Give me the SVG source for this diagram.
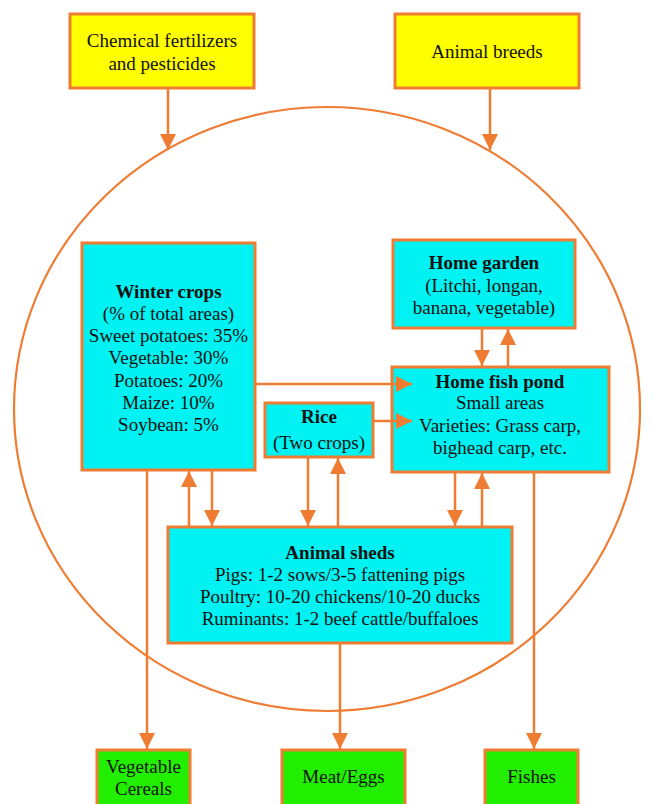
<svg xmlns="http://www.w3.org/2000/svg" width="654" height="804" viewBox="0 0 654 804">
<style>
.box{stroke:#EE7D33;stroke-width:3}
.y{fill:#FFFF00}.c{fill:#00F2F2}.g{fill:#22EE00}
text{font-family:"Liberation Serif","Times New Roman",serif;font-size:19px;fill:#111;text-anchor:middle}
.b{font-weight:bold}
.ln{stroke:#EE7D33;stroke-width:2.5;fill:none}
</style>
<defs>
<marker id="ah" markerUnits="userSpaceOnUse" markerWidth="17" markerHeight="16" refX="16" refY="8" orient="auto">
<path d="M0,0 L16,8 L0,16 z" fill="#EE7D33"/>
</marker>
</defs>
<rect width="654" height="804" fill="#fff"/>
<ellipse cx="327" cy="409" rx="313" ry="302" fill="none" stroke="#EE7D33" stroke-width="2.2"/>
<g id="chem">
<rect class="box y" x="70" y="14" width="184" height="74"/>
<text x="162" y="47">Chemical fertilizers</text>
<text x="162" y="70">and pesticides</text>
</g>
<g id="breeds">
<rect class="box y" x="395" y="14" width="184" height="74"/>
<text x="487" y="58">Animal breeds</text>
</g>
<g id="winter">
<rect class="box c" x="82" y="243" width="173" height="227"/>
<text class="b" x="168.5" y="298">Winter crops</text>
<text x="168.5" y="320">(% of total areas)</text>
<text x="168.5" y="342">Sweet potatoes: 35%</text>
<text x="168.5" y="364">Vegetable: 30%</text>
<text x="168.5" y="387">Potatoes: 20%</text>
<text x="168.5" y="409">Maize: 10%</text>
<text x="168.5" y="431">Soybean: 5%</text>
</g>
<g id="garden">
<rect class="box c" x="393" y="240" width="182" height="88"/>
<text class="b" x="484" y="269">Home garden</text>
<text x="484" y="292">(Litchi, longan,</text>
<text x="484" y="314">banana, vegetable)</text>
</g>
<g id="pond">
<rect class="box c" x="392" y="367" width="217" height="105"/>
<text class="b" x="500" y="388">Home fish pond</text>
<text x="500" y="409">Small areas</text>
<text x="500" y="432">Varieties: Grass carp,</text>
<text x="500" y="454">bighead carp, etc.</text>
</g>
<g id="rice">
<rect class="box c" x="265" y="403" width="108" height="54"/>
<text class="b" x="319" y="423">Rice</text>
<text x="319" y="449">(Two crops)</text>
</g>
<g id="sheds">
<rect class="box c" x="168" y="527" width="344" height="116"/>
<text class="b" x="340" y="559">Animal sheds</text>
<text x="340" y="581">Pigs: 1-2 sows/3-5 fattening pigs</text>
<text x="340" y="603">Poultry: 10-20 chickens/10-20 ducks</text>
<text x="340" y="625">Ruminants: 1-2 beef cattle/buffaloes</text>
</g>
<g id="veg">
<rect class="box g" x="97" y="750" width="93" height="56"/>
<text x="143.5" y="773">Vegetable</text>
<text x="143.5" y="795">Cereals</text>
</g>
<g id="meat">
<rect class="box g" x="282" y="750" width="123" height="56"/>
<text x="343.5" y="783">Meat/Eggs</text>
</g>
<g id="fishes">
<rect class="box g" x="485" y="750" width="93" height="56"/>
<text x="531.5" y="783">Fishes</text>
</g>
<g id="connectors">
<line class="ln" x1="168" y1="89" x2="168" y2="150" marker-end="url(#ah)"/>
<line class="ln" x1="490" y1="89" x2="490" y2="150" marker-end="url(#ah)"/>
<line class="ln" x1="482" y1="329" x2="482" y2="366" marker-end="url(#ah)"/>
<line class="ln" x1="508" y1="366" x2="508" y2="329" marker-end="url(#ah)"/>
<line class="ln" x1="256" y1="384" x2="412" y2="384" marker-end="url(#ah)"/>
<line class="ln" x1="374" y1="421" x2="412" y2="421" marker-end="url(#ah)"/>
<line class="ln" x1="189" y1="526" x2="189" y2="471" marker-end="url(#ah)"/>
<line class="ln" x1="212" y1="471" x2="212" y2="526" marker-end="url(#ah)"/>
<line class="ln" x1="308" y1="458" x2="308" y2="526" marker-end="url(#ah)"/>
<line class="ln" x1="338" y1="526" x2="338" y2="458" marker-end="url(#ah)"/>
<line class="ln" x1="455" y1="473" x2="455" y2="526" marker-end="url(#ah)"/>
<line class="ln" x1="482" y1="526" x2="482" y2="473" marker-end="url(#ah)"/>
<line class="ln" x1="147" y1="471" x2="147" y2="749" marker-end="url(#ah)"/>
<line class="ln" x1="340" y1="644" x2="340" y2="749" marker-end="url(#ah)"/>
<line class="ln" x1="534" y1="473" x2="534" y2="749" marker-end="url(#ah)"/>
</g>
</svg>
